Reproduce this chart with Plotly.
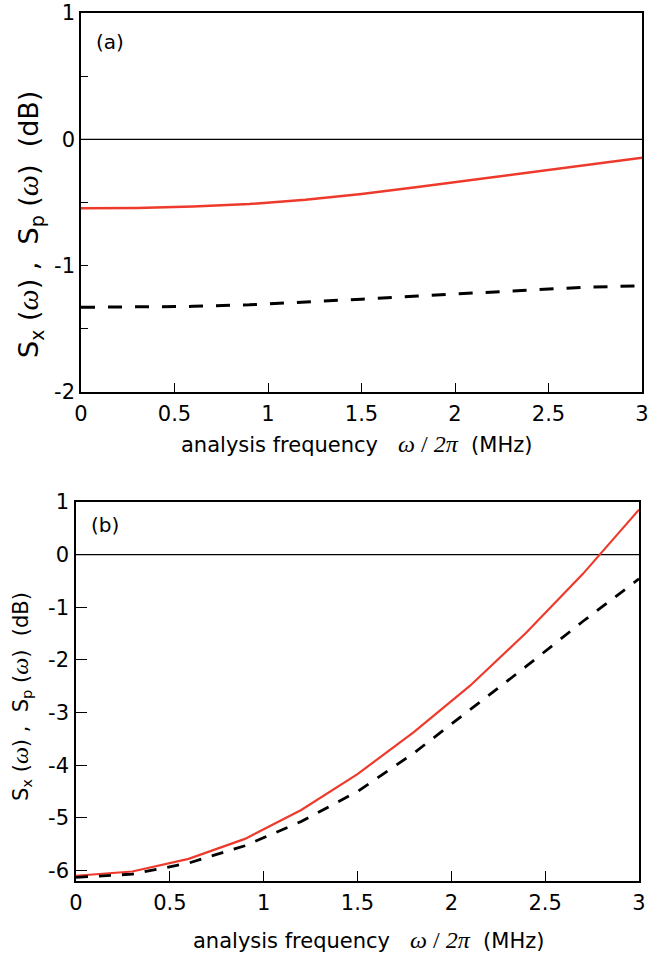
import plotly.graph_objects as go

# ---- data ----
freq = [0.0, 0.3, 0.6, 0.9, 1.2, 1.5, 1.8, 2.1, 2.4, 2.7, 3.0]
a_sx = [-0.545, -0.543, -0.532, -0.512, -0.478, -0.432, -0.378, -0.32, -0.26, -0.2, -0.145]
a_sp = [-1.33, -1.328, -1.322, -1.31, -1.29, -1.265, -1.24, -1.215, -1.19, -1.17, -1.16]
b_sx = [-6.10, -6.02, -5.78, -5.40, -4.85, -4.17, -3.37, -2.49, -1.48, -0.37, 0.855]
b_sp = [-6.13, -6.07, -5.86, -5.53, -5.07, -4.50, -3.77, -2.95, -2.12, -1.27, -0.46]

x_ticks = [0, 0.5, 1, 1.5, 2, 2.5, 3]
x_ticktext = ["0", "0.5", "1", "1.5", "2", "2.5", "3"]
a_yticks = [-2, -1.5, -1, -0.5, 0, 0.5, 1]
a_yticktext = ["-2", "", "-1", "", "0", "", "1"]
b_yticks = [-6, -5, -4, -3, -2, -1, 0, 1]
b_yticktext = ["-6", "-5", "-4", "-3", "-2", "-1", "0", "1"]

RED = "#ee3a2c"
FONT = "DejaVu Sans"
W, H = 668, 958


def px(x):
    return x / W


def py(y):
    return 1 - y / H


fig = go.Figure()

fig.add_trace(go.Scatter(x=freq, y=a_sx, mode="lines", line=dict(color=RED, width=2.5),
                         xaxis="x", yaxis="y", showlegend=False))
fig.add_trace(go.Scatter(x=freq, y=a_sp, mode="lines", line=dict(color="black", width=3, dash="14px,13px"),
                         xaxis="x", yaxis="y", showlegend=False))
fig.add_trace(go.Scatter(x=freq, y=b_sx, mode="lines", line=dict(color=RED, width=2.2),
                         xaxis="x2", yaxis="y2", showlegend=False))
fig.add_trace(go.Scatter(x=freq, y=b_sp, mode="lines", line=dict(color="black", width=2.8, dash="12px,11px"),
                         xaxis="x2", yaxis="y2", showlegend=False))

ax_common = dict(showline=True, linecolor="black", linewidth=1.5, mirror=True,
                 showgrid=False, zeroline=False, ticks="inside", tickcolor="black",
                 tickwidth=1.2, automargin=False, ticklabeloverflow="allow",
                 tickfont=dict(family=FONT, size=21, color="black"))

ax_dom_a = [px(81), px(642)]
ay_dom_a = [py(392), py(13)]
ax_dom_b = [px(76), px(639)]
ay_dom_b = [py(881), py(502)]

fig.update_layout(
    width=W, height=H,
    margin=dict(l=0, r=0, t=0, b=0),
    paper_bgcolor="white", plot_bgcolor="white",
    font=dict(family=FONT, color="black"),
    xaxis=dict(domain=ax_dom_a, range=[0, 3], tickvals=x_ticks, ticktext=x_ticktext,
               ticklen=9, anchor="y", ticklabelstandoff=2, **ax_common),
    yaxis=dict(domain=ay_dom_a, range=[-2, 1], tickvals=a_yticks, ticktext=a_yticktext,
               ticklen=7, anchor="x", ticklabelstandoff=0, **ax_common),
    xaxis2=dict(domain=ax_dom_b, range=[0, 3], tickvals=x_ticks, ticktext=x_ticktext,
                ticklen=10, anchor="y2", ticklabelstandoff=2, **ax_common),
    yaxis2=dict(domain=ay_dom_b, range=[-6.2, 1], tickvals=b_yticks, ticktext=b_yticktext,
                ticklen=11, anchor="x2", ticklabelstandoff=1, **ax_common),
)

for xr, yr in (("x", "y"), ("x2", "y2")):
    fig.add_shape(type="line", xref=xr, yref=yr, x0=0, x1=3, y0=0, y1=0,
                  line=dict(color="black", width=1.3), layer="below")

SERIF = "font-family:'Liberation Serif'"


def xtitle(sz):
    return ("analysis frequency&nbsp;&nbsp;&nbsp;<span style=\"" + SERIF + ";font-size:" + str(sz) + "px\">"
            "<i>ω</i> / <i>2π</i></span>&nbsp;&nbsp;(MHz)")


def ytitle(sz):
    om = "<span style=\"" + SERIF + ";font-size:" + str(sz) + "px\"><i>ω</i></span>"
    return ("S<sub>x</sub> (" + om + ") ,&nbsp;&nbsp;S<sub>p</sub> (" + om + ")&nbsp;&nbsp;(dB)")


ann = [
    dict(x=px(356), y=py(444), text=xtitle(24), size=21, angle=0),
    dict(x=px(368), y=py(940), text=xtitle(24), size=21, angle=0),
    dict(x=px(29), y=py(225), text=ytitle(30), size=27, angle=-90),
    dict(x=px(21), y=py(697), text=ytitle(24), size=21, angle=-90),
    dict(x=px(110), y=py(42), text="(a)", size=20, angle=0),
    dict(x=px(105), y=py(525), text="(b)", size=20, angle=0),
]
for a in ann:
    fig.add_annotation(xref="paper", yref="paper", x=a["x"], y=a["y"], text=a["text"],
                       showarrow=False, textangle=a["angle"], xanchor="center", yanchor="middle",
                       font=dict(family=FONT, size=a["size"], color="black"))

fig.write_html("out.html", config={"displayModeBar": False},
               post_script="document.body.style.margin='0';document.body.style.overflow='hidden';")
